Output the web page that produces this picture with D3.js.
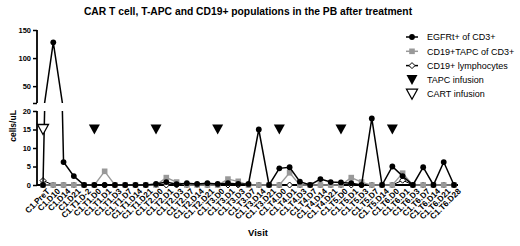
<!DOCTYPE html>
<html>
<head>
<meta charset="utf-8">
<script src="https://cdn.jsdelivr.net/npm/d3@7"></script>
<style>
body { margin: 0; background: #fff; }
svg { font-family: "Liberation Sans", Arial, sans-serif; }
</style>
</head>
<body>
<svg width="520" height="246"></svg>
<script>
// visits along the x axis
var visits = ["C1.PreT", "C1.D10", "C1.D14", "C1.D21",
	"C1.T1.D-2", "C1.T1.D0", "C1.T1.D1", "C1.T1.D3", "C1.T1.D7", "C1.T1.D14", "C1.T1.D21",
	"C1.T2.D0", "C1.T2.D1", "C1.T2.D3", "C1.T2.D7", "C1.T2.D14", "C1.T2.D21",
	"C1.T3.D0", "C1.T3.D1", "C1.T3.D3", "C1.T3.D7", "C1.T3.D14", "C1.T3.D21",
	"C1.T4.D0", "C1.T4.D1", "C1.T4.D3", "C1.T4.D7", "C1.T4.D14", "C1.T4.D21",
	"C1.T5.D0", "C1.T5.D1", "C1.T5.D3", "C1.T5.D7", "C1.T5.D14",
	"C1.T6.D0", "C1.T6.D1", "C1.T6.D3", "C1.T6.D7", "C1.T6.D14", "C1.T6.D21", "C1.T6.D28"];

// series values (cells/uL)
var egfrt = [0, 128, 6.2, 2.4, 0, 0, 0, 0, 0, 0, 0,
	0.3, 0.8, 0.2, 0.5, 0.3, 0.5,
	0.3, 0.5, 0.3, 0.3, 15, 0,
	4.5, 4.8, 0.9, 0, 1.6, 0.8,
	0.7, 0.5, 0, 18, 0,
	5, 2.4, 0, 4.8, 0, 6.2, 0];
var tapc = [0, 0, 0, 0, 0, 0, 3.7, 0, 0, 0, 0,
	0, 2, 0.8, 0, 0, 0,
	0, 1.6, 1, 0, 0, 0,
	0, 3.3, 0, 0, 0, 0,
	0, 2, 0.8, 0, 0,
	0, 3.2, 0, 0, 0, 0, 0];
var cd19 = [1.2, 0, 0, 0, 0, 0, 0, 0, 0, 0, 0,
	0, 0, 0, 0, 0, 0,
	0, 0, 0, 0, 0, 0,
	0, 0, 0, 0, 0, 0,
	0, 0, 0, 0, 0,
	0, 1.3, 0, 0, 0, 0, 0];

// infusion markers
var tapcInfusion = ["C1.T1.D0", "C1.T2.D0", "C1.T3.D0", "C1.T4.D0", "C1.T5.D0", "C1.T6.D0"];
var cartInfusion = ["C1.PreT"];
var infusionLevel = 15;

// y ticks for the two segments of the broken axis
var lowTicks = [0, 5, 10, 15, 20];
var highTicks = [50, 100, 150];

var svg = d3.select("svg");

var x = d3.scalePoint().domain(visits).range([43, 454]);
var yLow = d3.scaleLinear().domain([0, 20]).range([185, 111]);
var yHigh = d3.scaleLinear().domain([20, 150]).range([103, 30]);

// clip rectangles for the two axis segments
var defs = svg.append("defs");
defs.append("clipPath").attr("id", "clipLow")
	.append("rect").attr("x", 0).attr("y", yLow(20)).attr("width", 520).attr("height", 246);
defs.append("clipPath").attr("id", "clipHigh")
	.append("rect").attr("x", 0).attr("y", 0).attr("width", 520).attr("height", yHigh(20));

// title
svg.append("text")
	.attr("x", 248).attr("y", 15)
	.attr("text-anchor", "middle")
	.attr("font-size", 10.3).attr("font-weight", "bold")
	.text("CAR T cell, T-APC and CD19+ populations in the PB after treatment");

// y axis, two segments
var axLow = svg.append("g")
	.attr("transform", "translate(37,0)")
	.call(d3.axisLeft(yLow).tickValues(lowTicks).tickSize(4).tickPadding(2));
var axHigh = svg.append("g")
	.attr("transform", "translate(37,0)")
	.call(d3.axisLeft(yHigh).tickValues([20].concat(highTicks))
		.tickSize(4).tickPadding(2)
		.tickFormat(function (d) { return d === 20 ? "" : d; }));
[axLow, axHigh].forEach(function (ax) {
	ax.select(".domain").attr("stroke-width", 1.8);
	ax.selectAll(".tick line").attr("stroke-width", 1.5);
	ax.selectAll(".tick text").attr("font-size", 7.5).attr("font-weight", "bold")
		.attr("font-family", "Liberation Sans, Arial, sans-serif");
});
axLow.select(".domain").attr("d", "M0," + yLow(0) + "V" + yLow(20));
axHigh.select(".domain").attr("d", "M0," + yHigh(20) + "V" + yHigh(150));

// x axis
var axX = svg.append("g")
	.attr("transform", "translate(0," + yLow(0) + ")")
	.call(d3.axisBottom(x).tickSize(0).tickPadding(3));
axX.select(".domain").attr("d", "M37,0H458").attr("stroke-width", 1.8);
axX.selectAll(".tick text")
	.attr("font-size", 8.2).attr("font-weight", "bold")
	.attr("font-family", "Liberation Sans, Arial, sans-serif")
	.attr("text-anchor", "end")
	.attr("dy", "0.3em")
	.attr("transform", "translate(3,3) rotate(-45)");

// axis titles
svg.append("text")
	.attr("transform", "translate(16,126) rotate(-90)")
	.attr("text-anchor", "middle")
	.attr("font-size", 8.5).attr("font-weight", "bold")
	.text("cells/uL");
svg.append("text")
	.attr("x", 258).attr("y", 236)
	.attr("text-anchor", "middle")
	.attr("font-size", 9.5).attr("font-weight", "bold")
	.text("Visit");

// draw one series in both segments
function drawSeries(values, color, width, marker) {
	var pts = values.map(function (v, i) { return { v: v, k: visits[i] }; });
	[["clipLow", yLow], ["clipHigh", yHigh]].forEach(function (p) {
		var yS = p[1];
		svg.append("path")
			.datum(pts)
			.attr("clip-path", "url(#" + p[0] + ")")
			.attr("fill", "none")
			.attr("stroke", color)
			.attr("stroke-width", width)
			.attr("d", d3.line()
				.x(function (d) { return x(d.k); })
				.y(function (d) { return yS(d.v); }));
	});
	var g = svg.append("g");
	pts.forEach(function (d) {
		var cy = d.v > 20 ? yHigh(d.v) : yLow(d.v);
		marker(g, x(d.k), cy);
	});
}

function diamond(g, cx, cy) {
	g.append("path")
		.attr("d", "M" + cx + "," + (cy - 3) + "L" + (cx + 3) + "," + cy + "L" + cx + "," + (cy + 3) + "L" + (cx - 3) + "," + cy + "Z")
		.attr("fill", "#fff").attr("stroke", "#000").attr("stroke-width", 1);
}
function square(g, cx, cy) {
	g.append("rect")
		.attr("x", cx - 2.8).attr("y", cy - 2.8).attr("width", 5.6).attr("height", 5.6)
		.attr("fill", "#999");
}
function dot(g, cx, cy) {
	g.append("circle").attr("cx", cx).attr("cy", cy).attr("r", 2.9).attr("fill", "#000");
}
function triDown(g, cx, cy, filled) {
	g.append("path")
		.attr("d", "M" + (cx - 5.5) + "," + (cy - 5) + "L" + (cx + 5.5) + "," + (cy - 5) + "L" + cx + "," + (cy + 5) + "Z")
		.attr("fill", filled ? "#000" : "#fff")
		.attr("stroke", "#000").attr("stroke-width", filled ? 0 : 1.3);
}

drawSeries(cd19, "#000", 1, diamond);
drawSeries(tapc, "#999", 1.3, square);
drawSeries(egfrt, "#000", 1.5, dot);

// infusion markers
var inf = svg.append("g");
tapcInfusion.forEach(function (k) { triDown(inf, x(k), yLow(infusionLevel), true); });
cartInfusion.forEach(function (k) { triDown(inf, x(k), yLow(infusionLevel), false); });

// legend
var legend = [
	{ name: "EGFRt+ of CD3+", color: "#000", marker: dot, line: true },
	{ name: "CD19+TAPC of CD3+", color: "#999", marker: square, line: true },
	{ name: "CD19+ lymphocytes", color: "#000", marker: diamond, line: true },
	{ name: "TAPC infusion", marker: function (g, cx, cy) { triDown(g, cx, cy, true); } },
	{ name: "CART infusion", marker: function (g, cx, cy) { triDown(g, cx, cy, false); } }
];
var lg = svg.append("g");
legend.forEach(function (d, i) {
	var cy = 37 + i * 14.3;
	if (d.line) {
		lg.append("line").attr("x1", 406).attr("x2", 418).attr("y1", cy).attr("y2", cy)
			.attr("stroke", d.color).attr("stroke-width", 1.5);
	}
	d.marker(lg, 412, cy);
	lg.append("text").attr("x", 427).attr("y", cy + 3.2)
		.attr("font-size", 9).text(d.name);
});
</script>
</body>
</html>
